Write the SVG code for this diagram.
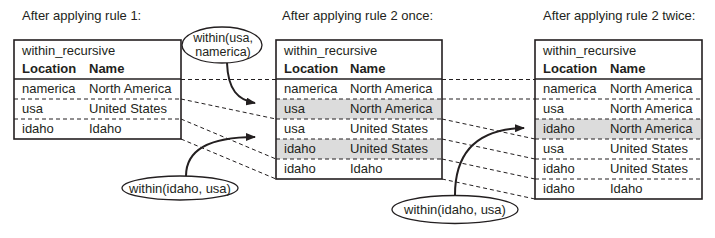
<svg xmlns="http://www.w3.org/2000/svg" width="715" height="238" viewBox="0 0 715 238">
<defs>
<style>
text{font-family:"Liberation Sans",Arial,sans-serif;font-size:13px;fill:#231f20}
.b{font-weight:bold}
.mid{text-anchor:middle}
.sm{font-size:12.5px}
.frame{fill:#fff;stroke:#231f20;stroke-width:1.6}
.hl{stroke:#231f20;stroke-width:1.4}
.sep{stroke:#231f20;stroke-width:1;stroke-dasharray:4 3}
.gray{fill:#dcdcdc}
.conn{fill:none;stroke:#231f20;stroke-width:1;stroke-dasharray:4 3}
.arr{fill:none;stroke:#231f20;stroke-width:2}
.ell{fill:#fff;stroke:#231f20;stroke-width:1.3}
</style>
<marker id="ah" markerWidth="10" markerHeight="8" refX="9" refY="4" orient="auto" markerUnits="userSpaceOnUse">
<path d="M0,0 L10,4 L0,8 Z" fill="#231f20"/>
</marker>
</defs>
<rect width="715" height="238" fill="#fff"/>

<g id="titles">
<text x="22" y="20">After applying rule 1:</text>
<text x="282" y="20">After applying rule 2 once:</text>
<text x="543" y="20">After applying rule 2 twice:</text>
</g>

<g id="connectors">
<line class="conn" x1="181" y1="79.5" x2="276" y2="79.5"/>
<line class="conn" x1="181" y1="99" x2="276" y2="119"/>
<line class="conn" x1="181" y1="119" x2="276" y2="159"/>
<line class="conn" x1="181" y1="139" x2="276" y2="179"/>
<line class="conn" x1="442" y1="79.5" x2="535" y2="79.5"/>
<line class="conn" x1="442" y1="99" x2="535" y2="99"/>
<line class="conn" x1="442" y1="119" x2="535" y2="139"/>
<line class="conn" x1="442" y1="139" x2="535" y2="159"/>
<line class="conn" x1="442" y1="159" x2="535" y2="179"/>
<line class="conn" x1="442" y1="179" x2="535" y2="199"/>
<path class="arr" d="M227,63 C228,90 238,100 255,103" marker-end="url(#ah)"/>
<path class="arr" d="M186,176 C186,150 210,137 255,137" marker-end="url(#ah)"/>
<path class="arr" d="M455,195 C455,150 480,129 524,128" marker-end="url(#ah)"/>
</g>

<g id="table1">
<rect class="frame" x="14" y="40" width="167" height="99"/>
<line class="hl" x1="14" y1="79" x2="181" y2="79"/>
<line class="sep" x1="14" y1="99" x2="181" y2="99"/>
<line class="sep" x1="14" y1="119" x2="181" y2="119"/>
<text x="22" y="55">within_recursive</text>
<text class="b" x="22" y="73">Location</text><text class="b" x="89" y="73">Name</text>
<text x="22" y="93">namerica</text><text x="89" y="93">North America</text>
<text x="22" y="113">usa</text><text x="89" y="113">United States</text>
<text x="22" y="133">idaho</text><text x="89" y="133">Idaho</text>
</g>

<g id="table2">
<rect class="frame" x="276" y="40" width="166" height="139"/>
<rect class="gray" x="277" y="99" width="164" height="20"/>
<rect class="gray" x="277" y="139" width="164" height="20"/>
<line class="hl" x1="276" y1="79" x2="442" y2="79"/>
<line class="sep" x1="276" y1="99" x2="442" y2="99"/>
<line class="sep" x1="276" y1="119" x2="442" y2="119"/>
<line class="sep" x1="276" y1="139" x2="442" y2="139"/>
<line class="sep" x1="276" y1="159" x2="442" y2="159"/>
<text x="284" y="55">within_recursive</text>
<text class="b" x="284" y="73">Location</text><text class="b" x="350" y="73">Name</text>
<text x="284" y="93">namerica</text><text x="350" y="93">North America</text>
<text x="284" y="113">usa</text><text x="350" y="113">North America</text>
<text x="284" y="133">usa</text><text x="350" y="133">United States</text>
<text x="284" y="153">idaho</text><text x="350" y="153">United States</text>
<text x="284" y="173">idaho</text><text x="350" y="173">Idaho</text>
</g>

<g id="table3">
<rect class="frame" x="535" y="40" width="167" height="159"/>
<rect class="gray" x="536" y="119" width="165" height="20"/>
<line class="hl" x1="535" y1="79" x2="702" y2="79"/>
<line class="sep" x1="535" y1="99" x2="702" y2="99"/>
<line class="sep" x1="535" y1="119" x2="702" y2="119"/>
<line class="sep" x1="535" y1="139" x2="702" y2="139"/>
<line class="sep" x1="535" y1="159" x2="702" y2="159"/>
<line class="sep" x1="535" y1="179" x2="702" y2="179"/>
<text x="543" y="55">within_recursive</text>
<text class="b" x="543" y="73">Location</text><text class="b" x="610" y="73">Name</text>
<text x="543" y="93">namerica</text><text x="610" y="93">North America</text>
<text x="543" y="113">usa</text><text x="610" y="113">North America</text>
<text x="543" y="133">idaho</text><text x="610" y="133">North America</text>
<text x="543" y="153">usa</text><text x="610" y="153">United States</text>
<text x="543" y="173">idaho</text><text x="610" y="173">United States</text>
<text x="543" y="193">idaho</text><text x="610" y="193">Idaho</text>
</g>

<g id="label1">
<ellipse class="ell" cx="222" cy="45" rx="40" ry="18"/>
<text class="mid sm" x="223" y="42">within(usa,</text>
<text class="mid sm" x="223" y="56">namerica)</text>
</g>

<g id="label2">
<ellipse class="ell" cx="180" cy="188" rx="58" ry="12"/>
<text class="mid" x="180" y="193">within(idaho, usa)</text>
</g>

<g id="label3">
<ellipse class="ell" cx="455" cy="209.5" rx="63" ry="14"/>
<text class="mid" x="455" y="214">within(idaho, usa)</text>
</g>
</svg>
